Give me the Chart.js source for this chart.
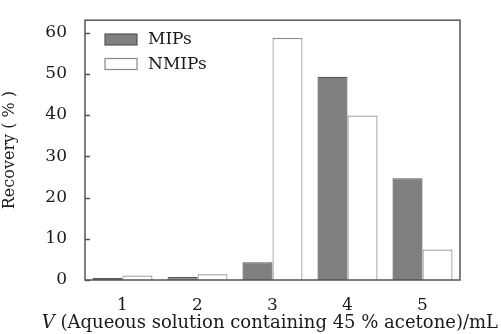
<!DOCTYPE html>
<html>
<head>
    <meta charset="UTF-8">
    <title>Recovery</title>
    <script src="https://cdn.jsdelivr.net/npm/chart.js@4.4.0/dist/chart.umd.min.js"></script>
    <style>
        html, body { margin: 0; padding: 0; background: #fff; }
        #wrap { width: 501px; height: 334px; }
    </style>
</head>
<body>
    <div id="wrap"><canvas id="chart" width="501" height="334"></canvas></div>
    <script>
        // data
        const volumes = ['1', '2', '3', '4', '5'];
        const mipsRecovery = [0.5, 0.7, 4.3, 49.3, 24.7];
        const nmipsRecovery = [1.1, 1.4, 58.7, 39.9, 7.4];
        const yTicks = [0, 10, 20, 30, 40, 50, 60];

        const serif = "'DejaVu Serif', 'Liberation Serif', serif";
        const axisColor = '#555';
        const textColor = '#1a1a1a';

        // frame, inward y ticks, legend and x title
        const decor = {
            id: 'decor',
            afterDraw(chart) {
                const ctx = chart.ctx;
                const a = chart.chartArea;
                const y = chart.scales.y;
                ctx.save();
                ctx.strokeStyle = axisColor;
                ctx.lineWidth = 1.5;
                ctx.strokeRect(a.left, a.top, a.right - a.left, a.bottom - a.top);

                ctx.beginPath();
                yTicks.forEach(v => {
                    const py = Math.round(y.getPixelForValue(v)) + 0.5;
                    ctx.moveTo(a.left, py);
                    ctx.lineTo(a.left + 5, py);
                });
                ctx.stroke();

                // legend
                const items = chart.data.datasets;
                items.forEach((ds, i) => {
                    const top = 34 + i * 24.5;
                    ctx.fillStyle = ds.backgroundColor;
                    ctx.fillRect(105, top, 32, 11);
                    ctx.strokeStyle = ds.borderColor;
                    ctx.lineWidth = 1.2;
                    ctx.strokeRect(105, top, 32, 11);
                    ctx.fillStyle = textColor;
                    ctx.font = '17px ' + serif;
                    ctx.textBaseline = 'middle';
                    ctx.textAlign = 'left';
                    ctx.fillText(ds.label, 148, top + 6);
                });

                // x title with italic V
                ctx.fillStyle = textColor;
                ctx.textBaseline = 'middle';
                const rest = ' (Aqueous solution containing 45 % acetone)/mL';
                ctx.font = 'italic 18px ' + serif;
                const w1 = ctx.measureText('V').width;
                ctx.font = '18px ' + serif;
                const w2 = ctx.measureText(rest).width;
                const x0 = 498 - w1 - w2;
                ctx.font = 'italic 18px ' + serif;
                ctx.fillText('V', x0, 323);
                ctx.font = '18px ' + serif;
                ctx.fillText(rest, x0 + w1, 323);
                ctx.restore();
            }
        };

        new Chart(document.getElementById('chart').getContext('2d'), {
            type: 'bar',
            data: {
                labels: volumes,
                datasets: [{
                    label: 'MIPs',
                    data: mipsRecovery,
                    backgroundColor: '#7f7f7f',
                    borderColor: '#555',
                    borderWidth: 1.2,
                    categoryPercentage: 0.8,
                    barPercentage: 1.0
                }, {
                    label: 'NMIPs',
                    data: nmipsRecovery,
                    backgroundColor: '#ffffff',
                    borderColor: '#8a8a8a',
                    borderWidth: 1.2,
                    categoryPercentage: 0.8,
                    barPercentage: 1.0
                }]
            },
            options: {
                responsive: false,
                animation: false,
                layout: { padding: { left: 0, top: 14, right: 41, bottom: 0 } },
                plugins: {
                    legend: { display: false },
                    tooltip: { enabled: false }
                },
                scales: {
                    x: {
                        grid: { display: false },
                        border: { display: false },
                        ticks: { color: textColor, font: { family: serif, size: 17 }, padding: 7 },
                        afterFit: s => { s.height = 54; }
                    },
                    y: {
                        min: 0,
                        max: 63,
                        grid: { display: false },
                        border: { display: false },
                        ticks: { stepSize: 10, color: textColor, font: { family: serif, size: 17 }, padding: 10 },
                        afterBuildTicks: s => { s.ticks = yTicks.map(v => ({ value: v })); },
                        title: { display: true, text: 'Recovery ( % )', color: textColor, font: { family: serif, size: 16 }, padding: { top: 0, bottom: 3 } },
                        afterFit: s => { s.width = 85; }
                    }
                }
            },
            plugins: [decor]
        });
    </script>
</body>
</html>
